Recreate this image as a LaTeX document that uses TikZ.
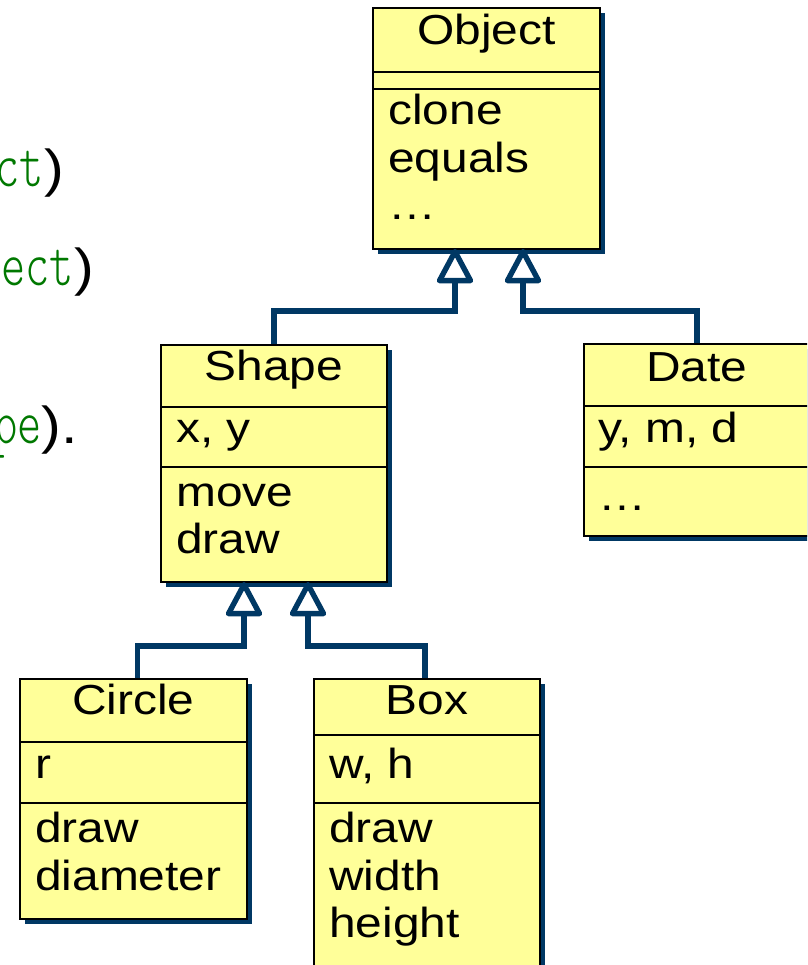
\documentclass[tikz,border=0pt]{standalone}
\usepackage{fontspec}
\setmainfont[FakeStretch=1.14]{Liberation Sans}
\newfontfamily\codefont[FakeStretch=0.72]{Latin Modern Mono Light}
\definecolor{classfill}{RGB}{255,255,153}
\definecolor{navy}{RGB}{0,56,100}
\definecolor{codegreen}{RGB}{0,120,0}
\tikzset{
  classbox/.style={draw=black, line width=1.8pt, fill=classfill, inner sep=0pt, anchor=north west},
  divider/.style={draw=black, line width=1.5pt},
  txt/.style={inner sep=0pt, font=\fontsize{42}{48}\selectfont, anchor=base west},
  ttl/.style={txt, anchor=base},
  frag/.style={inner sep=0pt, font=\fontsize{52}{60}\selectfont, anchor=base east},
  link/.style={draw=navy, line width=5.4pt},
  hollowtip/.style={draw=navy, fill=white, line width=5.4pt, line join=round},
}
% green code words in the running text
\newcommand\codeword[1]{{\codefont\fontsize{64}{70}\selectfont\color{codegreen}#1}}
% hollow generalisation triangle whose apex touches the given point
\newcommand\gentip[1]{\draw[hollowtip] (#1) ++(0,1.8) -- ++(-15.5,29) -- ++(31,0) -- cycle;}
\begin{document}
\begin{tikzpicture}[x=1pt, y=-1pt]
\useasboundingbox (0,0) rectangle (807,965);
\clip (0,0) rectangle (807,965);

% sentence fragments at the left edge
\node[frag] (frag1) at (64,187) {\codeword{ct})};
\node[frag] (frag2) at (94,285) {\codeword{ect})};
\node[frag] (frag3) at (78,443) {\codeword{pe}).};

% ---- Object ----
\fill[navy] (378,13) rectangle (605,254);
\node[classbox, minimum width=227pt, minimum height=241pt] (object) at (372,7) {};
\draw[divider] (object.west |- 0,72) -- (object.east |- 0,72);
\draw[divider] (object.west |- 0,89) -- (object.east |- 0,89);
\node[ttl] (object-name) at (object.center |- 0,45) {Object};
\node[txt] (object-op1) at (388,125) {clone};
\node[txt] (object-op2) at (388,173) {equals};
\node[txt] (object-op3) at (388,220) {\dots};

% ---- Shape ----
\fill[navy] (166,350) rectangle (392,587);
\node[classbox, minimum width=226pt, minimum height=237pt] (shape) at (160,344) {};
\draw[divider] (shape.west |- 0,407) -- (shape.east |- 0,407);
\draw[divider] (shape.west |- 0,467) -- (shape.east |- 0,467);
\node[ttl] (shape-name) at (shape.center |- 0,380) {Shape};
\node[txt] (shape-attr) at (176,442) {x, y};
\node[txt] (shape-op1) at (176,506) {move};
\node[txt] (shape-op2) at (176,553) {draw};

% ---- Date ----
\fill[navy] (589,349) rectangle (815,541);
\node[classbox, minimum width=226pt, minimum height=192pt] (date) at (583,343) {};
\draw[divider] (date.west |- 0,406) -- (date.east |- 0,406);
\draw[divider] (date.west |- 0,467) -- (date.east |- 0,467);
\node[ttl] (date-name) at (date.center |- 0,381) {Date};
\node[txt] (date-attr) at (598,442) {y, m, d};
\node[txt] (date-op1) at (598,510) {\dots};

% ---- Circle ----
\fill[navy] (25,684) rectangle (252,924);
\node[classbox, minimum width=227pt, minimum height=240pt] (circle) at (19,678) {};
\draw[divider] (circle.west |- 0,742) -- (circle.east |- 0,742);
\draw[divider] (circle.west |- 0,803) -- (circle.east |- 0,803);
\node[ttl] (circle-name) at (circle.center |- 0,714) {Circle};
\node[txt] (circle-attr) at (35,778) {r};
\node[txt] (circle-op1) at (35,842) {draw};
\node[txt] (circle-op2) at (35,890) {diameter};

% ---- Box ----
\fill[navy] (319,684) rectangle (545,1004);
\node[classbox, minimum width=226pt, minimum height=320pt] (box) at (313,678) {};
\draw[divider] (box.west |- 0,735) -- (box.east |- 0,735);
\draw[divider] (box.west |- 0,803) -- (box.east |- 0,803);
\node[ttl] (box-name) at (box.center |- 0,714) {Box};
\node[txt] (box-attr) at (329,778) {w, h};
\node[txt] (box-op1) at (329,842) {draw};
\node[txt] (box-op2) at (329,890) {width};
\node[txt] (box-op3) at (329,937) {height};

% ---- generalisation connectors ----
\coordinate (objL) at (455,311);
\coordinate (objR) at (523,311);
\coordinate (shL) at (244,646);
\coordinate (shR) at (308,646);
\coordinate (tipOL) at (objL |- object.south);
\coordinate (tipOR) at (objR |- object.south);
\coordinate (tipSL) at (shL |- shape.south);
\coordinate (tipSR) at (shR |- shape.south);
\draw[link] (shape.north) |- (objL) -- (tipOL);
\draw[link] (date.north) |- (objR) -- (tipOR);
\draw[link] ([xshift=4pt]circle.north) |- (shL) -- (tipSL);
\draw[link] ([xshift=-2pt]box.north) |- (shR) -- (tipSR);
\gentip{tipOL}
\gentip{tipOR}
\gentip{tipSL}
\gentip{tipSR}
\end{tikzpicture}
\end{document}
